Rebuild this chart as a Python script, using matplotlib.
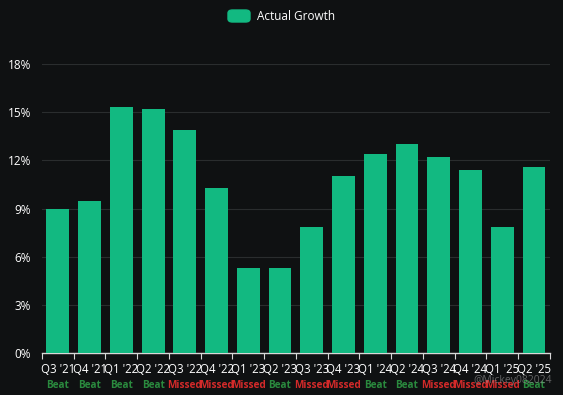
import matplotlib.pyplot as plt
from matplotlib.ticker import FuncFormatter, MultipleLocator
from matplotlib.patches import FancyBboxPatch

# quarters, actual growth (%), beat / missed
quarters = ["Q3 '21", "Q4 '21", "Q1 '22", "Q2 '22", "Q3 '22", "Q4 '22", "Q1 '23", "Q2 '23",
            "Q3 '23", "Q4 '23", "Q1 '24", "Q2 '24", "Q3 '24", "Q4 '24", "Q1 '25", "Q2 '25"]
growth = [9.0, 9.44, 15.35, 15.19, 13.9, 10.27, 5.3, 5.28,
          7.86, 11.03, 12.42, 13.02, 12.21, 11.4, 7.83, 11.59]
results = ["Beat", "Beat", "Beat", "Beat", "Missed", "Missed", "Missed", "Beat",
           "Missed", "Missed", "Beat", "Beat", "Missed", "Missed", "Missed", "Beat"]

bg = '#0f1112'
bar_color = '#12b981'
plt.rcParams['font.family'] = ['Open Sans', 'DejaVu Sans']

fig = plt.figure(figsize=(5.63, 3.95), dpi=100, facecolor=bg)
ax = fig.add_axes([0.0746, 0.106, 0.902, 0.732], facecolor=bg)

x = range(len(quarters))
ax.bar(x, growth, width=0.72, color=bar_color, zorder=3)

ax.set_xlim(-0.5, len(quarters) - 0.5)
ax.set_ylim(0, 18)
ax.yaxis.set_major_locator(MultipleLocator(3))
ax.yaxis.set_major_formatter(FuncFormatter(lambda v, p: f"{v:.0f}%"))
ax.grid(axis='y', color='#2a2d2e', linewidth=0.8, zorder=0)

for s in ['top', 'right', 'left']:
    ax.spines[s].set_visible(False)
ax.spines['bottom'].set_color('#d8d8d8')
ax.spines['bottom'].set_linewidth(1.0)

ax.tick_params(axis='y', length=0, colors='white', labelsize=8.5, pad=8)
# ticks at band boundaries, labels at bar centres
ax.set_xticks([i - 0.5 for i in range(len(quarters) + 1)])
ax.set_xticklabels([])
ax.tick_params(axis='x', which='major', length=4, color='#d8d8d8')
ax.set_xticks(list(x), minor=True)
ax.set_xticklabels(quarters, minor=True)
ax.tick_params(axis='x', which='minor', length=0, colors='white', labelsize=8.3, pad=7)

for i, r in enumerate(results):
    c = '#2a8a3e' if r == 'Beat' else '#d42a2a'
    ax.text(i, -0.112, r, transform=ax.get_xaxis_transform(), ha='center', va='center',
            fontsize=7.2, fontweight='bold', color=c)

# legend
fig.patches.append(FancyBboxPatch((228 / 563, 1 - 22 / 395), 22 / 563, 12 / 395,
                                  boxstyle='round,pad=0,rounding_size=0.008',
                                  transform=fig.transFigure, color=bar_color))
fig.text(257 / 563, 1 - 16 / 395, 'Actual Growth', color='white', fontsize=8.5,
         ha='left', va='center')

# watermark
fig.text(552 / 563, 1 - 381 / 395, '@Mickey082024', color='#9a9a9a', alpha=0.6,
         fontsize=7.5, ha='right', va='center')

fig.savefig('out.png', dpi=100, facecolor=bg)
